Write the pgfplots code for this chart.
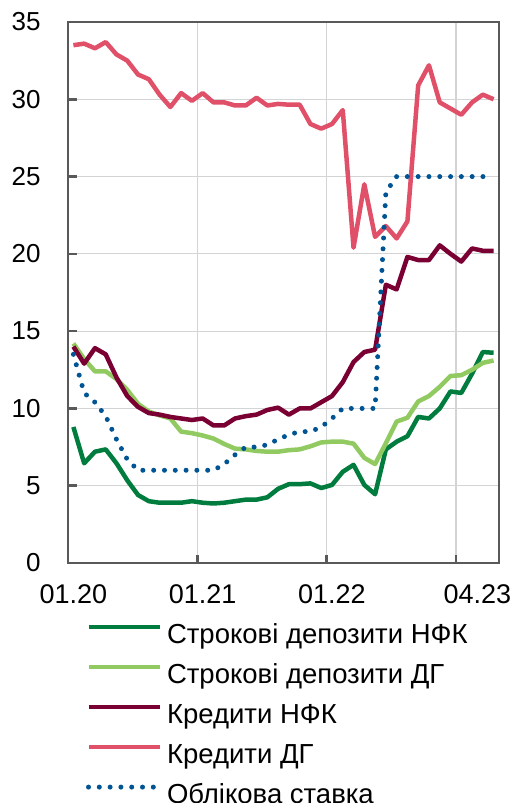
\documentclass[border=0pt]{standalone}
\usepackage{pgfplots}
\pgfplotsset{compat=1.18}
\usepackage{fontspec}
\setmainfont{Liberation Sans}
\definecolor{depnfk}{RGB}{0,125,62}
\definecolor{depdg}{RGB}{146,202,98}
\definecolor{crnfk}{RGB}{122,0,51}
\definecolor{crdg}{RGB}{224,80,104}
\definecolor{rate}{RGB}{0,84,147}
\definecolor{axgray}{RGB}{89,89,89}
\definecolor{gridgray}{RGB}{210,212,214}
\begin{document}
\begin{tikzpicture}
\path[use as bounding box] (-68pt,-240pt) rectangle (458pt,563pt);
\begin{axis}[
  at={(0,0)}, anchor=south west,
  scale only axis, width=431pt, height=541pt,
  xmin=-0.5, xmax=39.5, ymin=0, ymax=35,
  axis line style={draw=axgray, line width=2.5pt},
  ytick={0,5,...,35},
  ymajorgrids,
  xtick={11.5,23.5,35.5}, xticklabels={}, xmajorgrids,
  extra x ticks={0,12,24,37.5},
  extra x tick labels={01.20,01.21,01.22,04.23},
  extra x tick style={grid=none, major tick length=0pt},
  grid style={draw=gridgray, line width=1.2pt},
  tick align=inside, tick pos=left,
  major tick length=8.5pt,
  major tick style={draw=axgray, line width=2.5pt},
  tick label style={font=\fontsize{26}{30}\selectfont},
  /pgf/number format/assume math mode=true,
  yticklabel style={xshift=-24pt},
  xticklabel style={yshift=-18pt, font=\fontsize{27}{30}\selectfont},
  legend style={at={(0.0418,-0.112)}, anchor=north west, draw=none, fill=none,
    inner sep=0pt, outer sep=0pt, row sep=14pt, column sep=5pt,
    font=\fontsize{27.5}{30}\selectfont,
    nodes={inner sep=0pt, text height=20pt, text depth=6pt}},
  legend cell align=left,
  legend image code/.code={\draw[#1] (0pt,9.5pt) -- (71pt,9.5pt);},
  every axis plot/.append style={line width=4.5pt, line join=round},
]
\addplot[depnfk] coordinates {
(0,8.8)(1,6.45)(2,7.2)(3,7.35)(4,6.45)(5,5.35)(6,4.4)(7,4.0)(8,3.9)(9,3.9)
(10,3.9)(11,4.0)(12,3.9)(13,3.85)(14,3.9)(15,4.0)(16,4.1)(17,4.1)(18,4.25)(19,4.8)
(20,5.1)(21,5.1)(22,5.15)(23,4.85)(24,5.05)(25,5.9)(26,6.35)(27,5.05)(28,4.45)(29,7.35)
(30,7.85)(31,8.2)(32,9.45)(33,9.35)(34,10.0)(35,11.1)(36,11.0)(37,12.25)(38,13.65)(39,13.6)};
\addlegendentry{Строкові депозити НФК}
\addplot[depdg] coordinates {
(0,14.2)(1,13.2)(2,12.4)(3,12.4)(4,11.9)(5,11.2)(6,10.3)(7,9.8)(8,9.55)(9,9.35)
(10,8.5)(11,8.4)(12,8.25)(13,8.05)(14,7.7)(15,7.4)(16,7.35)(17,7.25)(18,7.2)(19,7.2)
(20,7.3)(21,7.35)(22,7.55)(23,7.8)(24,7.85)(25,7.85)(26,7.72)(27,6.8)(28,6.4)(29,7.75)
(30,9.15)(31,9.4)(32,10.45)(33,10.8)(34,11.4)(35,12.1)(36,12.15)(37,12.5)(38,12.95)(39,13.1)};
\addlegendentry{Строкові депозити ДГ}
\addplot[crnfk] coordinates {
(0,14.0)(1,12.9)(2,13.9)(3,13.5)(4,12.0)(5,10.8)(6,10.1)(7,9.7)(8,9.6)(9,9.45)
(10,9.35)(11,9.25)(12,9.35)(13,8.9)(14,8.9)(15,9.35)(16,9.5)(17,9.6)(18,9.9)(19,10.05)
(20,9.6)(21,10.0)(22,10.0)(23,10.4)(24,10.8)(25,11.7)(26,13.0)(27,13.65)(28,13.8)(29,18.0)
(30,17.7)(31,19.8)(32,19.6)(33,19.6)(34,20.55)(35,20.0)(36,19.5)(37,20.35)(38,20.2)(39,20.2)};
\addlegendentry{Кредити НФК}
\addplot[crdg] coordinates {
(0,33.5)(1,33.6)(2,33.3)(3,33.7)(4,32.9)(5,32.5)(6,31.6)(7,31.3)(8,30.3)(9,29.5)
(10,30.4)(11,29.9)(12,30.4)(13,29.8)(14,29.8)(15,29.6)(16,29.6)(17,30.1)(18,29.6)(19,29.7)
(20,29.65)(21,29.65)(22,28.4)(23,28.1)(24,28.4)(25,29.3)(26,20.4)(27,24.5)(28,21.1)(29,21.8)
(30,21.0)(31,22.1)(32,30.9)(33,32.2)(34,29.8)(35,29.4)(36,29.0)(37,29.8)(38,30.3)(39,30.0)};
\addlegendentry{Кредити ДГ}
\addplot[rate, line width=5pt, line cap=round, dash pattern=on 0pt off 10.8pt] coordinates {
(0,13.5)(1,11.0)(2,10.4)(3,9.5)(4,8.0)(5,6.7)(6,6)(7,6)(8,6)(9,6)
(10,6)(11,6)(12,6)(13,6)(14,6.4)(15,7.0)(16,7.5)(17,7.5)(18,7.65)(19,8.0)
(20,8.3)(21,8.5)(22,8.5)(23,8.8)(24,9.35)(25,10)(26,10)(27,10)(28,10)(29,24.0)
(30,25)(31,25)(32,25)(33,25)(34,25)(35,25)(36,25)(37,25)(38,25)(39,25)};
\addlegendentry{Облікова ставка}
\end{axis}
\end{tikzpicture}
\end{document}
